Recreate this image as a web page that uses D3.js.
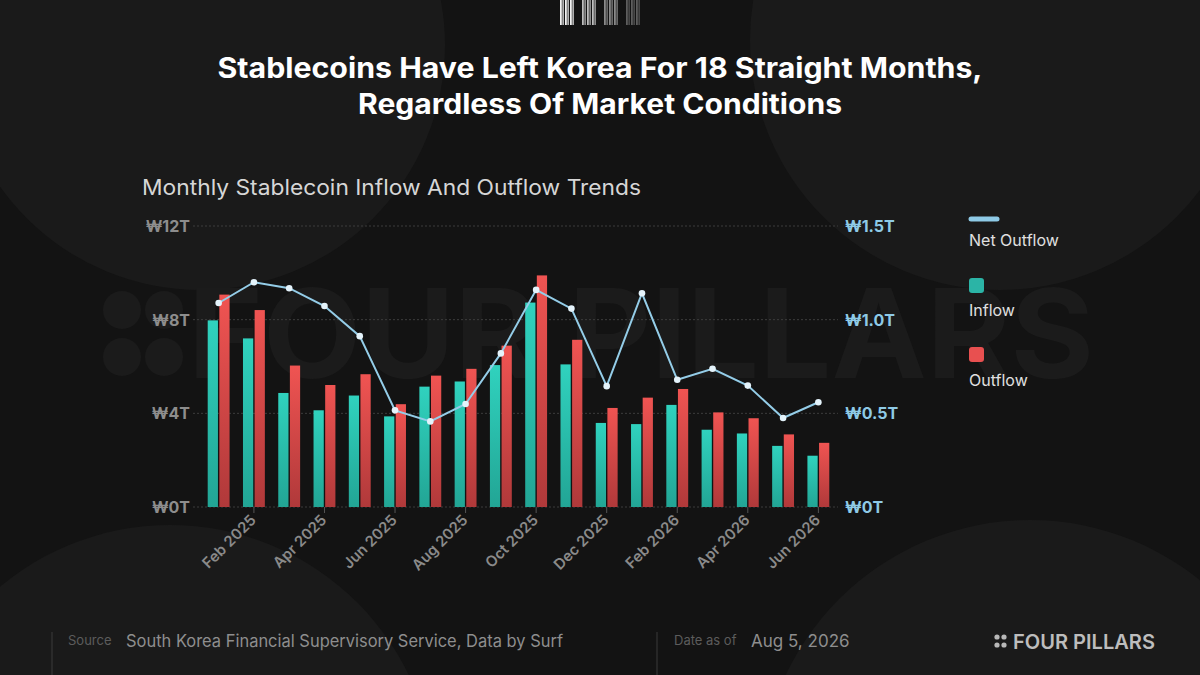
<!DOCTYPE html>
<html>
<head>
<meta charset="utf-8">
<script src="https://cdn.jsdelivr.net/npm/d3@7.9.0/dist/d3.min.js"></script>
<style>
  html, body { margin: 0; padding: 0; background: #131313; }
  svg { display: block; font-family: Inter, "Noto Sans", sans-serif; }
</style>
</head>
<body>
<svg id="chart" width="1200" height="675"></svg>
<script>
// Data
const months = [
  'Jan 2025', 'Feb 2025', 'Mar 2025', 'Apr 2025', 'May 2025', 'Jun 2025',
  'Jul 2025', 'Aug 2025', 'Sep 2025', 'Oct 2025', 'Nov 2025', 'Dec 2025',
  'Jan 2026', 'Feb 2026', 'Mar 2026', 'Apr 2026', 'May 2026', 'Jun 2026'
];
// trillion KRW
const inflow  = [7.97, 7.2, 4.87, 4.13, 4.76, 3.87, 5.14, 5.36, 6.06, 8.73, 6.09, 3.59, 3.54, 4.36, 3.3, 3.14, 2.61, 2.19];
const outflow = [9.07, 8.41, 6.04, 5.21, 5.67, 4.39, 5.61, 5.9, 6.89, 9.89, 7.14, 4.23, 4.67, 5.04, 4.04, 3.79, 3.1, 2.74];
const netOutflow = [1.089, 1.2, 1.168, 1.073, 0.912, 0.516, 0.457, 0.55, 0.82, 1.159, 1.059, 0.645, 1.141, 0.679, 0.738, 0.648, 0.475, 0.559];

const leftTicks = [0, 4, 8, 12];
const rightTicks = [0, 0.5, 1.0, 1.5];
const xTickMonths = months.filter((m, i) => i % 2 === 1);

const svg = d3.select('#chart');

// background blobs
const bg = svg.append('g');
bg.append('rect').attr('width', 1200).attr('height', 675).attr('fill', '#131313');
[[200, 45, 245], [1000, 40, 250], [170, 790, 265], [1030, 790, 270]].forEach(([cx, cy, r]) => {
  bg.append('circle').attr('cx', cx).attr('cy', cy).attr('r', r).attr('fill', '#1a1a1a');
});

// watermark
const wm = svg.append('g').attr('fill', '#1b1b1b');
[[122, 310], [164, 310], [122, 357], [164, 357]].forEach(([cx, cy]) => {
  wm.append('circle').attr('cx', cx).attr('cy', cy).attr('r', 19);
});
wm.append('text')
  .attr('x', 188).attr('y', 378)
  .attr('font-size', 124).attr('font-weight', 700)
  .attr('textLength', 906).attr('lengthAdjust', 'spacingAndGlyphs')
  .text('FOUR PILLARS');

// barcode at top
const barcode = svg.append('g');
const groupColors = ['#f2f2f2', '#bdbdbd', '#8a8a8a', '#5e5e5e'];
groupColors.forEach((c, g) => {
  const x0 = 560 + g * 22;
  [0, 2.5, 5, 7.5, 10, 12.5].forEach((dx, k) => {
    barcode.append('rect')
      .attr('x', x0 + dx).attr('y', 0)
      .attr('width', k % 2 ? 1.2 : 1.8).attr('height', 25)
      .attr('fill', c);
  });
});

// titles
svg.append('text')
  .attr('x', 600).attr('y', 78).attr('text-anchor', 'middle')
  .attr('fill', '#ffffff').attr('font-size', 28).attr('font-weight', 700)
  .attr('textLength', 765).attr('lengthAdjust', 'spacingAndGlyphs')
  .text('Stablecoins Have Left Korea For 18 Straight Months,');
svg.append('text')
  .attr('x', 600).attr('y', 114).attr('text-anchor', 'middle')
  .attr('fill', '#ffffff').attr('font-size', 28).attr('font-weight', 700)
  .attr('textLength', 484).attr('lengthAdjust', 'spacingAndGlyphs')
  .text('Regardless Of Market Conditions');
svg.append('text')
  .attr('x', 142).attr('y', 195)
  .attr('fill', '#d6d6d6').attr('font-size', 21)
  .attr('textLength', 499).attr('lengthAdjust', 'spacingAndGlyphs')
  .text('Monthly Stablecoin Inflow And Outflow Trends');

// scales
const x = d3.scaleBand().domain(months).range([201, 836]).paddingInner(0.38).paddingOuter(0.19);
const x1 = d3.scaleBand().domain(['inflow', 'outflow']).range([0, x.bandwidth()]).paddingInner(0.12);
const y = d3.scaleLinear().domain([0, 12]).range([507, 226]);
const y2 = d3.scaleLinear().domain([0, 1.5]).range([507, 226]);

// gradients
const defs = svg.append('defs');
function grad(id, top, bottom) {
  const g = defs.append('linearGradient').attr('id', id).attr('x1', 0).attr('y1', 0).attr('x2', 0).attr('y2', 1);
  g.append('stop').attr('offset', '0%').attr('stop-color', top);
  g.append('stop').attr('offset', '100%').attr('stop-color', bottom);
}
grad('gIn', '#30d2be', '#22a595');
grad('gOut', '#f05452', '#b0393a');

// gridlines
svg.append('g')
  .selectAll('line')
  .data(leftTicks)
  .join('line')
  .attr('x1', 193).attr('x2', 838)
  .attr('y1', d => y(d)).attr('y2', d => y(d))
  .attr('stroke', '#3d3d3d').attr('stroke-dasharray', '2,2').attr('stroke-width', 1);

// left axis labels
svg.append('g')
  .selectAll('text')
  .data(leftTicks)
  .join('text')
  .attr('x', 190).attr('y', d => y(d) + 6)
  .attr('text-anchor', 'end')
  .attr('fill', '#8d8d8d').attr('font-size', 16).attr('font-weight', 700)
  .text(d => `₩${d}T`);

// right axis labels
svg.append('g')
  .selectAll('text')
  .data(rightTicks)
  .join('text')
  .attr('x', 845).attr('y', d => y2(d) + 6)
  .attr('fill', '#8ecae6').attr('font-size', 16).attr('font-weight', 700)
  .text(d => d === 0 ? '₩0T' : `₩${d.toFixed(1)}T`);

// bars
const rows = months.map((m, i) => ({ month: m, inflow: inflow[i], outflow: outflow[i] }));
const groups = svg.append('g')
  .selectAll('g')
  .data(rows)
  .join('g')
  .attr('transform', d => `translate(${x(d.month)},0)`);
groups.selectAll('rect')
  .data(d => [{ key: 'inflow', v: d.inflow }, { key: 'outflow', v: d.outflow }])
  .join('rect')
  .attr('x', d => x1(d.key))
  .attr('width', x1.bandwidth())
  .attr('y', d => y(d.v))
  .attr('height', d => y(0) - y(d.v))
  .attr('fill', d => d.key === 'inflow' ? 'url(#gIn)' : 'url(#gOut)');

// x axis
const xAxis = svg.append('g')
  .attr('transform', 'translate(0,507)')
  .call(d3.axisBottom(x).tickValues(xTickMonths).tickSize(6).tickPadding(6));
xAxis.select('.domain').remove();
xAxis.selectAll('.tick line').attr('stroke', '#555');
xAxis.selectAll('.tick text')
  .attr('fill', '#8a8a8a').attr('font-size', 15).attr('font-weight', 600)
  .attr('font-family', 'Inter, sans-serif')
  .attr('text-anchor', 'end')
  .attr('y', 0).attr('dy', 0).attr('dx', 0)
  .attr('transform', 'translate(3,14) rotate(-45)');

// net outflow line
const cx = m => x(m) + x.bandwidth() / 2;
const line = d3.line().x((d, i) => cx(months[i])).y(d => y2(d));
svg.append('path')
  .datum(netOutflow)
  .attr('d', line)
  .attr('fill', 'none')
  .attr('stroke', '#94cde8')
  .attr('stroke-width', 2);
svg.append('g')
  .selectAll('circle')
  .data(netOutflow)
  .join('circle')
  .attr('cx', (d, i) => cx(months[i]))
  .attr('cy', d => y2(d))
  .attr('r', 3.3)
  .attr('fill', '#e4f3fb');

// legend
const lg = svg.append('g').attr('font-size', 16).attr('fill', '#e0e0e0');
lg.append('line').attr('x1', 971).attr('x2', 997).attr('y1', 219).attr('y2', 219)
  .attr('stroke', '#8ecae6').attr('stroke-width', 5).attr('stroke-linecap', 'round');
lg.append('text').attr('x', 969).attr('y', 246).text('Net Outflow');
lg.append('rect').attr('x', 969).attr('y', 278).attr('width', 15).attr('height', 15).attr('rx', 3).attr('fill', '#2bb4a6');
lg.append('text').attr('x', 969).attr('y', 316).text('Inflow');
lg.append('rect').attr('x', 969).attr('y', 347).attr('width', 15).attr('height', 15).attr('rx', 3).attr('fill', '#e85050');
lg.append('text').attr('x', 969).attr('y', 386).text('Outflow');

// footer
const ft = svg.append('g');
[52, 657].forEach(xx => {
  ft.append('line').attr('x1', xx).attr('x2', xx).attr('y1', 632).attr('y2', 675)
    .attr('stroke', '#3a3a3a').attr('stroke-width', 1);
});
ft.append('text').attr('x', 68).attr('y', 645).attr('font-size', 13).attr('fill', '#5c5c5c').text('Source');
ft.append('text').attr('x', 126).attr('y', 647).attr('font-size', 17).attr('fill', '#8e8e8e')
  .attr('textLength', 437).attr('lengthAdjust', 'spacingAndGlyphs')
  .text('South Korea Financial Supervisory Service, Data by Surf');
ft.append('text').attr('x', 674).attr('y', 645).attr('font-size', 13).attr('fill', '#5c5c5c').text('Date as of');
ft.append('text').attr('x', 751).attr('y', 647).attr('font-size', 17).attr('fill', '#8e8e8e').text('Aug 5, 2026');
[[997, 637], [1004, 637], [997, 645], [1004, 645]].forEach(([cx0, cy0]) => {
  ft.append('circle').attr('cx', cx0).attr('cy', cy0).attr('r', 2.6).attr('fill', '#b8b8b8');
});
ft.append('text').attr('x', 1013).attr('y', 649).attr('font-size', 20).attr('font-weight', 600)
  .attr('fill', '#bdbdbd').attr('textLength', 142).attr('lengthAdjust', 'spacingAndGlyphs')
  .text('FOUR PILLARS');
</script>
</body>
</html>
